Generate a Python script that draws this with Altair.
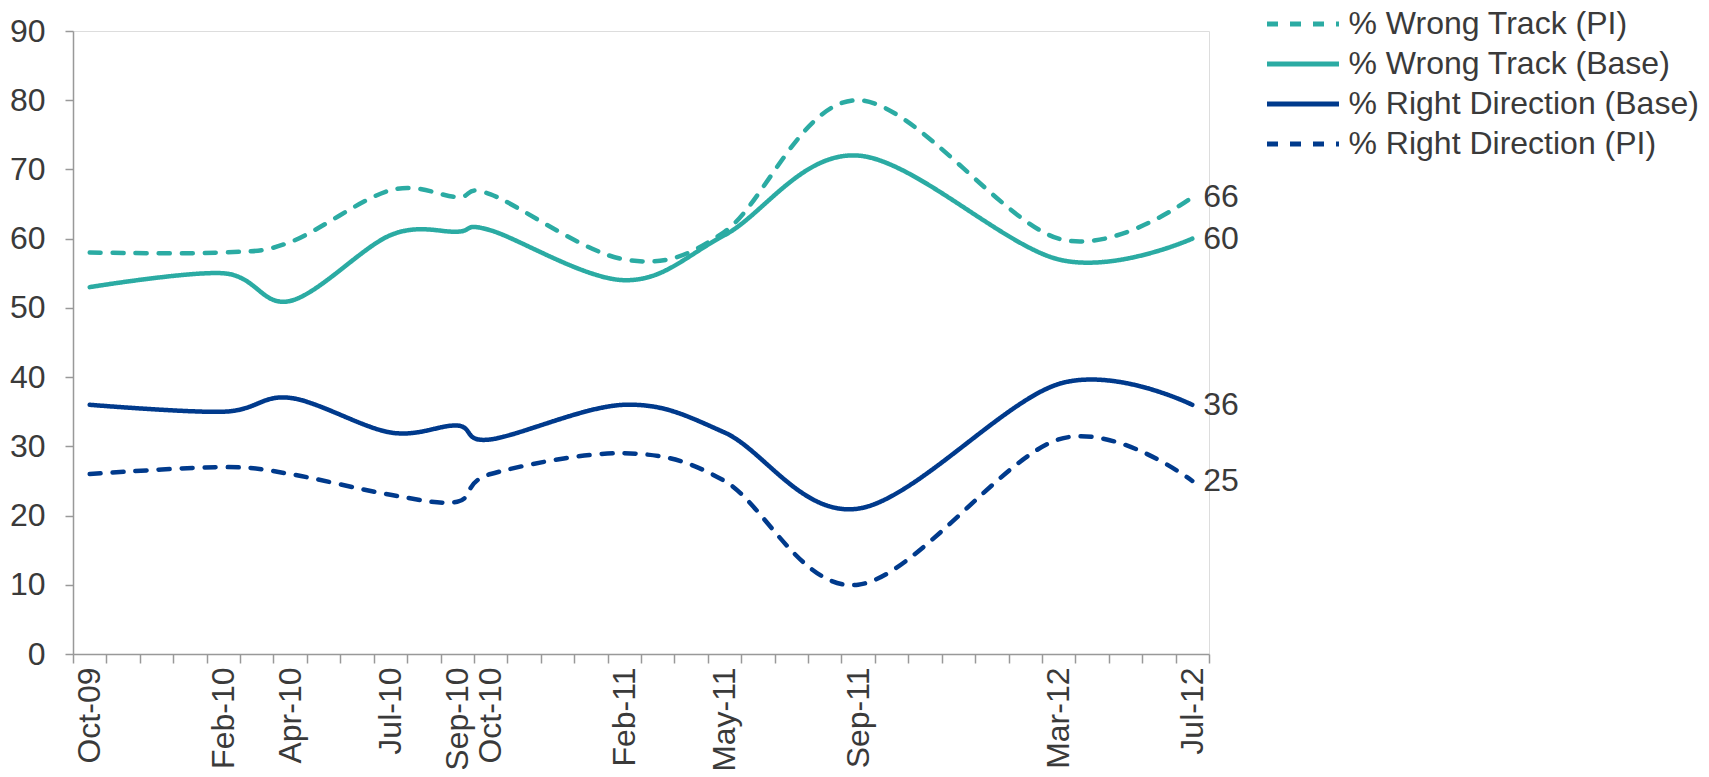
import altair as alt
import pandas as pd

# ---- data ----
months = ["Oct-09", "Feb-10", "Apr-10", "Jul-10", "Sep-10", "Oct-10",
          "Feb-11", "May-11", "Sep-11", "Mar-12", "Jul-12"]
month_index = [0, 4, 6, 9, 11, 12, 16, 19, 23, 29, 33]   # months since Oct-09
n_months = 34

wrong_pi = [58, 58, 59.5, 67, 66, 66.4, 57, 61, 80, 60, 66]
wrong_base = [53, 55, 51, 60.5, 61, 61.2, 54, 60.5, 72, 57, 60]
right_base = [36, 35, 37, 32, 33, 31, 36, 32, 21, 39, 36]
right_pi = [26, 27, 26, 23, 22, 26, 29, 25, 10, 31, 25]

series_names = ["% Wrong Track (PI)", "% Wrong Track (Base)",
                "% Right Direction (Base)", "% Right Direction (PI)"]
series_values = [wrong_pi, wrong_base, right_base, right_pi]
end_labels = ["66", "60", "36", "25"]

TEAL = "#2BABA3"
NAVY = "#003A8C"
TEXT = "#3a3a3a"
AXIS = "#999999"
FONT = "Liberation Sans"
FS = 32

rows = []
for name, vals in zip(series_names, series_values):
    for m, i, v in zip(months, month_index, vals):
        rows.append({"series": name, "month": m, "pos": i + 0.5, "value": v})
df = pd.DataFrame(rows)

last = pd.DataFrame({"series": series_names,
                     "pos": [month_index[-1] + 0.5] * 4,
                     "value": [s[-1] for s in series_values],
                     "label": end_labels})

label_pos = [i + 0.5 for i in month_index]
label_expr = ("[" + ",".join("'%s'" % m for m in months) + "][indexof(["
              + ",".join(str(p) for p in label_pos) + "], datum.value)]")

x_scale = alt.Scale(domain=[0, n_months], nice=False, zero=False)
y_scale = alt.Scale(domain=[0, 90], nice=False)

y_axis = alt.Axis(values=list(range(0, 100, 10)), tickSize=8, labelPadding=20,
                  labelFontSize=FS, labelFont=FONT, labelColor=TEXT,
                  domainColor=AXIS, tickColor=AXIS, domainWidth=1.5, tickWidth=1.5,
                  grid=False, title=None)

legend = alt.Legend(orient="none", legendX=1214, legendY=-23, title=None,
                    labelFontSize=FS, labelFont=FONT, labelColor=TEXT,
                    symbolType="M-2.88,0H2.88", symbolSize=625, symbolStrokeWidth=5,
                    labelOffset=29.5, rowPadding=8, padding=0, labelLimit=700)

color = alt.Color("series:N", sort=series_names,
                  scale=alt.Scale(domain=series_names, range=[TEAL, TEAL, NAVY, NAVY]),
                  legend=legend)
dash = alt.StrokeDash("series:N", sort=series_names,
                      scale=alt.Scale(domain=series_names,
                                      range=[[11, 12], [1, 0], [1, 0], [11, 12]]),
                      legend=legend)

lines = alt.Chart(df).mark_line(interpolate="cardinal", strokeWidth=4.5,
                                strokeCap="round").encode(
    x=alt.X("pos:Q", scale=x_scale,
            axis=alt.Axis(values=list(range(n_months + 1)), labels=False, tickSize=9,
                          domainColor=AXIS, tickColor=AXIS, domainWidth=1.5,
                          tickWidth=1.5, grid=False, title=None, orient="bottom")),
    y=alt.Y("value:Q", scale=y_scale, axis=y_axis),
    color=color,
    strokeDash=dash,
    detail="series:N",
)

labels = alt.Chart(last).mark_text(align="left", baseline="middle", dx=11,
                                   fontSize=FS, font=FONT, color=TEXT).encode(
    x=alt.X("pos:Q", scale=x_scale,
            axis=alt.Axis(values=label_pos, labelExpr=label_expr, labelAngle=-90,
                          ticks=False, tickSize=0, domain=False, labelPadding=13,
                          labelFontSize=FS, labelFont=FONT, labelColor=TEXT,
                          labelOverlap=False, labelFlush=False, labelBound=False,
                          grid=False, title=None, orient="bottom")),
    y=alt.Y("value:Q", scale=y_scale, axis=y_axis),
    text="label:N",
)

chart = alt.layer(lines, labels).resolve_axis(x="independent").properties(
    width=1136, height=623,
    autosize=alt.AutoSizeParams(type="none"),
    padding={"left": 65, "top": 23, "right": 492, "bottom": 115},
).configure_view(stroke=None).configure(background="white")

chart.save("out.html", embed_options={"renderer": "svg", "actions": False})
